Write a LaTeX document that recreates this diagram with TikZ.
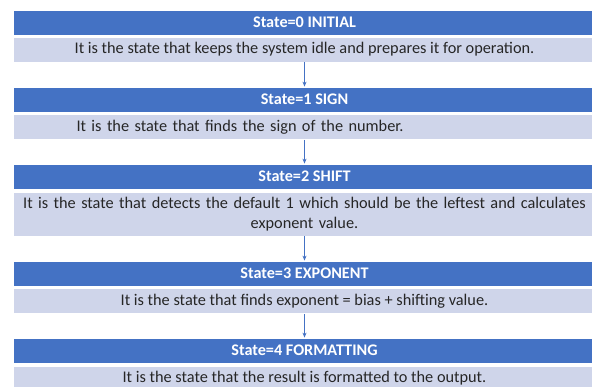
\documentclass[tikz,border=0pt]{standalone}
\usepackage{fontspec}
\setmainfont{Carlito}
\usetikzlibrary{arrows.meta}
\definecolor{hdr}{HTML}{4472C4}
\definecolor{dsc}{HTML}{CFD5EA}
\begin{document}
\begin{tikzpicture}[x=1pt,y=-1pt,
  hbox/.style={rectangle, fill=hdr, draw=white, line width=0.8pt, minimum width=583pt, inner sep=0pt,
    font=\fontsize{16.2}{19}\selectfont\bfseries, text=white},
  dbox/.style={rectangle, fill=dsc, draw=white, line width=0.8pt, minimum width=583pt, inner sep=0pt,
    font=\fontsize{16.3}{20.5}\selectfont, text=black!85},
  arr/.style={draw=hdr, line width=0.8pt, -{Stealth[length=5pt,width=4pt]}}]
\useasboundingbox (0,0) rectangle (592,387);
\fill[white] (0,0) rectangle (592,387);
\node[hbox, minimum height=25pt] (h0) at (304.5,22.5) {State=0 INITIAL};
\node[dbox, minimum height=25pt] (d0) at (304.5,49.5) {It is the state that keeps the system idle and prepares it for operation.};
\node[hbox, minimum height=25pt] (h1) at (304.5,99.5) {State=1 SIGN};
\node[dbox, minimum height=25pt, text width=456pt, inner xsep=63.5pt, align=left] (d1) at (304.5,127) {It is the state that finds the sign of the number.};
\node[hbox, minimum height=25pt] (h2) at (304.5,176.5) {State=2 SHIFT};
\node[dbox, minimum height=44pt, text width=570pt, align=center] (d2) at (304.5,214) {It is the state that detects the default 1 which should be the leftest and calculates\\exponent value.};
\node[hbox, minimum height=25pt] (h3) at (304.5,273.5) {State=3 EXPONENT};
\node[dbox, minimum height=25pt] (d3) at (304.5,301) {It is the state that finds exponent = bias + shifting value.};
\node[hbox, minimum height=25pt] (h4) at (304.5,350.5) {State=4 FORMATTING};
\node[dbox, minimum height=25pt] (d4) at (304.5,378.5) {It is the state that the result is formatted to the output.};
\draw[arr] (d0.south) -- (h1.north);
\draw[arr] (d1.south) -- (h2.north);
\draw[arr] (d2.south) -- (h3.north);
\draw[arr] (d3.south) -- (h4.north);
\end{tikzpicture}
\end{document}
